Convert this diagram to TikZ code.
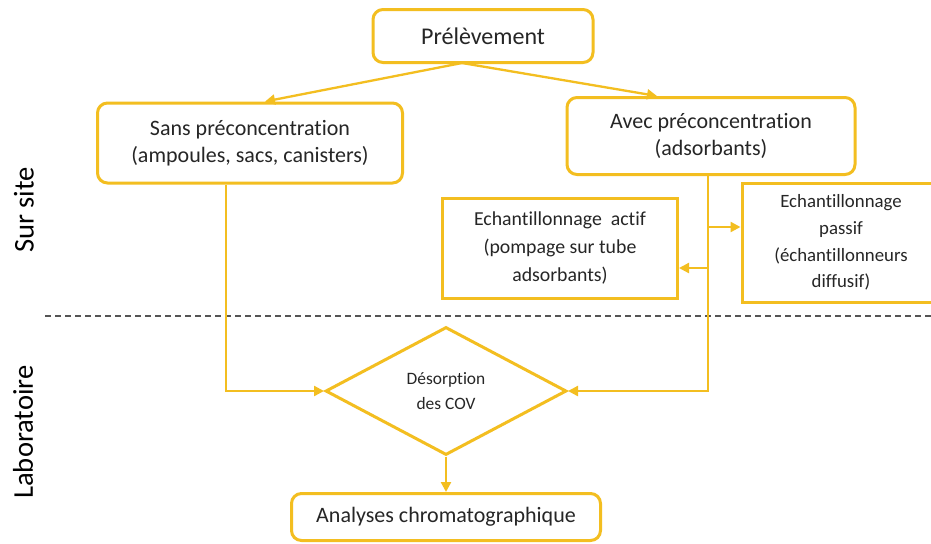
\documentclass[tikz,border=0pt]{standalone}
\usepackage{fontspec}
\setmainfont{Carlito}[Ligatures=NoCommon]
\usetikzlibrary{shapes.geometric,arrows.meta,positioning}
\definecolor{gold}{RGB}{243,190,32}
\definecolor{txt}{RGB}{38,38,38}
\definecolor{sepline}{RGB}{85,85,85}

\begin{document}
\begin{tikzpicture}[x=0.5pt, y=-0.5pt,
    box/.style={draw=gold, line width=1.5pt, rounded corners=5pt, text=txt, align=center, inner sep=2pt},
    sqbox/.style={draw=gold, line width=1.5pt, text=txt, align=center, inner sep=2pt},
    link/.style={draw=gold, line width=1.15pt, -{Triangle[length=5pt,width=5pt]}},
    side/.style={rotate=90, text=black, font=\fontsize{14.3}{16}\selectfont}]
    \useasboundingbox[fill=white] (0,0) rectangle (931,543);

    % Sampling
    \node (pre) [box, minimum width=110pt, minimum height=26.5pt, font=\fontsize{12}{14}\selectfont] at (483,36) {Prélèvement};

    % Two families
    \node (sans) [box, minimum width=152.5pt, minimum height=40pt, font=\fontsize{11}{13.5}\selectfont] at (250,143)
        {Sans préconcentration\\(ampoules, sacs, canisters)};
    \node (avec) [box, minimum width=144pt, minimum height=38.5pt, font=\fontsize{11}{13.5}\selectfont] at (711,136)
        {Avec préconcentration\\(adsorbants)};

    % Adsorbent sampling modes
    \node (actif) [sqbox, minimum width=117.5pt, minimum height=50pt, font=\fontsize{9.9}{14}\selectfont] at (560,248)
        {Echantillonnage~ actif\\(pompage sur tube\\adsorbants)};
    \node (passif) [sqbox, minimum width=99pt, minimum height=59.5pt, font=\fontsize{9.4}{13.3}\selectfont] at (841,242.5)
        {Echantillonnage\\passif\\(échantillonneurs\\diffusif)};

    % Laboratory
    \node (des) [diamond, draw=gold, line width=1.5pt, aspect=2, inner sep=0pt, minimum width=120.5pt, minimum height=64pt,
        text=txt, align=center, font=\fontsize{8.7}{12.5}\selectfont] at (446,391) {Désorption\\des COV};
    \node (ana) [box, minimum width=154.5pt, minimum height=23.5pt, font=\fontsize{11}{13}\selectfont] at (446,517)
        {Analyses chromatographique};

    % Side labels
    \node (site) [side] at (24,210) {Sur site};
    \node (labo) [side] at (23,432) {Laboratoire};
    \draw[sepline, line width=0.9pt, dash pattern=on 3pt off 2pt] (45,316) -- (935,316);

    % Junctions
    \coordinate (split) at (462,63);
    \coordinate (jpas) at (708,227);
    \coordinate (jact) at (708,268);

    % Connections
    \draw[link] (split) -- ([xshift=7.5pt]sans.north);
    \draw[link] (split) -- ([xshift=-27pt]avec.north);
    \draw[link] ([xshift=-12pt]sans.south) |- (des.west);
    \draw[link] ([xshift=-1.5pt]avec.south) |- (des.east);
    \draw[link] (jpas) -- (jpas -| passif.west);
    \draw[link] (jact) -- (jact -| actif.east);
    \draw[link] (des.south) -- (ana.north);
\end{tikzpicture}
\end{document}
